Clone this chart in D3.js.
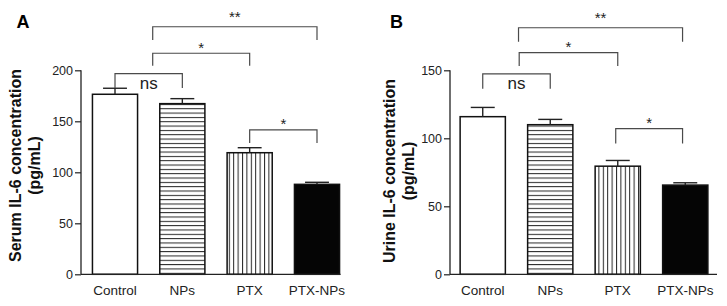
<!DOCTYPE html>
<html>
<head>
<meta charset="utf-8">
<script src="https://cdn.jsdelivr.net/npm/d3@7"></script>
<style>
  body { margin: 0; background: #fff; }
  svg { display: block; font-family: "Liberation Sans", Arial, sans-serif; }
</style>
</head>
<body>
<svg id="chart" width="727" height="306"></svg>
<script>
// values
const categories = ['Control', 'NPs', 'PTX', 'PTX-NPs']
const fills = ['white', 'hstripe', 'vstripe', 'black']

const serumMeans = [176.5, 167.3, 119.2, 88.2]
const serumErrors = [5.9, 4.9, 4.9, 2.0]
const serumTicks = [0, 50, 100, 150, 200]

const urineMeans = [115.9, 110.0, 79.5, 65.6]
const urineErrors = [6.8, 3.9, 4.2, 1.7]
const urineTicks = [0, 50, 100, 150]

// brackets: from/to are category positions, top = bar level, legs = where each leg stops
const serumBrackets = [
  { from: 0, to: 1, top: 196.7, legs: [182.6, 182.6], label: 'ns' },
  { from: 0.56, to: 2, top: 216.7, legs: [204.5, 204.5], label: '*' },
  { from: 0.56, to: 3, top: 242.7, legs: [229.7, 229.7], label: '**' },
  { from: 2, to: 3, top: 141.5, legs: [128.7, 128.7], label: '*' },
]
const urineBrackets = [
  { from: 0, to: 1, top: 147.4, legs: [136.5, 136.5], label: 'ns' },
  { from: 0.54, to: 2, top: 163, legs: [153.2, 153.2], label: '*' },
  { from: 0.53, to: 2.96, top: 181.3, legs: [171, 171], label: '**' },
  { from: 1.97, to: 2.96, top: 107.1, legs: [96.1, 96.1], label: '*' },
]

const svg = d3.select('#chart')
const defs = svg.append('defs')

// stripe patterns
let hp = defs.append('pattern')
  .attr('id', 'hstripe')
  .attr('patternUnits', 'userSpaceOnUse')
  .attr('width', 8).attr('height', 4.33)
hp.append('rect').attr('width', 8).attr('height', 4.33).attr('fill', '#fff')
hp.append('line').attr('x1', 0).attr('x2', 8).attr('y1', 0.5).attr('y2', 0.5)
  .attr('stroke', '#222').attr('stroke-width', 1)

let vp = defs.append('pattern')
  .attr('id', 'vstripe')
  .attr('patternUnits', 'userSpaceOnUse')
  .attr('width', 4.4).attr('height', 8)
vp.append('rect').attr('width', 4.4).attr('height', 8).attr('fill', '#fff')
vp.append('line').attr('y1', 0).attr('y2', 8).attr('x1', 0.5).attr('x2', 0.5)
  .attr('stroke', '#222').attr('stroke-width', 1)

function fillFor(f) {
  if (f === 'hstripe' || f === 'vstripe') return `url(#${f})`
  return f === 'black' ? '#050505' : '#fff'
}

function drawPanel(p) {
  let g = svg.append('g')

  let x = d3.scaleBand()
    .domain(categories)
    .range([p.left, p.right])
    .paddingInner(0.33)
    .paddingOuter(p.outer)
  let bw = x.bandwidth()
  let center = i => x(categories[0]) + bw / 2 + i * x.step()

  let y = d3.scaleLinear()
    .domain([0, d3.max(p.ticks)])
    .range([274.3, 70.3])

  // y axis
  let yAxis = d3.axisLeft(y).tickValues(p.ticks).tickSize(6).tickPadding(2)
  let ya = g.append('g')
    .attr('transform', `translate(${p.left},0)`)
    .call(yAxis)
  ya.select('.domain').remove()
  ya.selectAll('.tick line').attr('stroke', '#222').attr('stroke-width', 1.2)
  ya.selectAll('.tick text')
    .attr('fill', '#222')
    .style('font-size', '12.5px')
    .style('font-family', '"Liberation Sans", Arial, sans-serif')
  g.append('line')
    .attr('x1', p.left).attr('x2', p.left)
    .attr('y1', y(0)).attr('y2', y(d3.max(p.ticks)))
    .attr('stroke', '#222').attr('stroke-width', 1.3)

  // bars
  g.selectAll('rect.bar')
    .data(p.means)
    .join('rect')
    .attr('class', 'bar')
    .attr('x', (d, i) => x(categories[i]))
    .attr('width', bw)
    .attr('y', d => y(d))
    .attr('height', d => y(0) - y(d))
    .attr('fill', (d, i) => fillFor(fills[i]))
    .attr('stroke', '#111')
    .attr('stroke-width', 1.5)

  // error bars (upper half)
  let capW = bw * 0.53
  p.means.forEach((m, i) => {
    let cx = center(i)
    let top = y(m + p.errors[i])
    g.append('line')
      .attr('x1', cx).attr('x2', cx)
      .attr('y1', y(m)).attr('y2', top)
      .attr('stroke', '#222').attr('stroke-width', 1.4)
    g.append('line')
      .attr('x1', cx - capW / 2).attr('x2', cx + capW / 2)
      .attr('y1', top).attr('y2', top)
      .attr('stroke', '#222').attr('stroke-width', 1.4)
  })

  // x axis line
  g.append('line')
    .attr('x1', p.left).attr('x2', p.axisEnd)
    .attr('y1', y(0)).attr('y2', y(0))
    .attr('stroke', '#222').attr('stroke-width', 1.3)

  g.selectAll('text.xlab')
    .data(categories)
    .join('text')
    .attr('class', 'xlab')
    .attr('x', (d, i) => center(i))
    .attr('y', 295)
    .attr('text-anchor', 'middle')
    .attr('fill', '#222')
    .style('font-size', '13.5px')
    .text(d => d)

  // significance brackets
  p.brackets.forEach(b => {
    let x1 = center(b.from), x2 = center(b.to)
    let yt = y(b.top)
    g.append('path')
      .attr('d', `M${x1},${y(b.legs[0])}V${yt}H${x2}V${y(b.legs[1])}`)
      .attr('fill', 'none')
      .attr('stroke', '#4a4a4a')
      .attr('stroke-width', 1.2)
    if (b.label === 'ns') {
      g.append('text')
        .attr('x', (x1 + x2) / 2)
        .attr('y', yt + 15.5)
        .attr('text-anchor', 'middle')
        .attr('fill', '#222')
        .style('font-size', '17px')
        .text(b.label)
    } else {
      g.append('text')
        .attr('x', (x1 + x2) / 2)
        .attr('y', yt - (b.label.length > 1 ? 5 : 0.5))
        .attr('text-anchor', 'middle')
        .attr('fill', '#222')
        .style('font-size', '15px')
        .text(b.label)
    }
  })

  // y title, two lines
  p.title.forEach((t, k) => {
    g.append('text')
      .attr('transform', `translate(${p.titleX[k]},${p.titleY}) rotate(-90)`)
      .attr('text-anchor', 'middle')
      .attr('fill', '#111')
      .style('font-size', '16px')
      .style('font-weight', 'bold')
      .text(t)
  })

  // panel letter
  g.append('text')
    .attr('x', p.letterX)
    .attr('y', 27.5)
    .attr('fill', '#000')
    .style('font-size', '18px')
    .style('font-weight', 'bold')
    .text(p.letter)
}

drawPanel({
  letter: 'A', letterX: 16.5,
  left: 81, right: 351, outer: 0.17, axisEnd: 340.5,
  means: serumMeans, errors: serumErrors, ticks: serumTicks,
  brackets: serumBrackets,
  title: ['Serum IL-6 concentration', '(pg/mL)'],
  titleX: [20.5, 39.5], titleY: 165.5,
})

drawPanel({
  letter: 'B', letterX: 390,
  left: 450, right: 718, outer: 0.15, axisEnd: 717,
  means: urineMeans, errors: urineErrors, ticks: urineTicks,
  brackets: urineBrackets,
  title: ['Urine IL-6 concentration', '(pg/mL)'],
  titleX: [395, 413.5], titleY: 171,
})
</script>
</body>
</html>
